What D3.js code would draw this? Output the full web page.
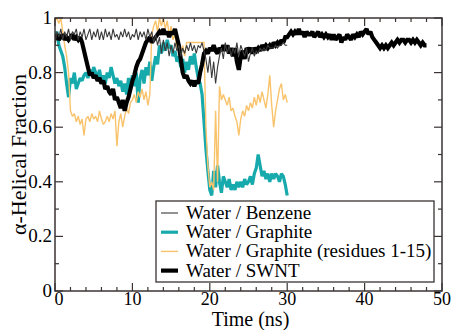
<!DOCTYPE html>
<html>
<head>
<meta charset="utf-8">
<script src="https://cdn.jsdelivr.net/npm/d3@7/dist/d3.min.js"></script>
<style>
  html, body { margin: 0; padding: 0; background: #fff; }
  svg { display: block; }
</style>
</head>
<body>
<script>
// time step between samples (ns)
const dt = 0.25;

// alpha-helical fraction, 4 samples per ns
const benzene = [
  0.90, 0.95, 0.93, 0.96,  0.92, 0.95, 0.93, 0.96,  0.92, 0.95, 0.94, 0.96,
  0.92, 0.95, 0.93, 0.96,  0.92, 0.94, 0.96, 0.92,  0.95, 0.93, 0.96, 0.92,
  0.95, 0.92, 0.96, 0.93,  0.95, 0.92, 0.96, 0.93,  0.94, 0.92, 0.95, 0.93,
  0.96, 0.93, 0.95, 0.92,  0.94, 0.93, 0.96, 0.92,  0.95, 0.93, 0.95, 0.92,
  0.96, 0.93, 0.95, 0.91,  0.94, 0.90, 0.93, 0.87,  0.92, 0.88, 0.91, 0.86,
  0.90, 0.87, 0.91, 0.88,  0.90, 0.86, 0.89, 0.87,  0.90, 0.88, 0.91, 0.88,
  0.90, 0.87, 0.90, 0.89,  0.91, 0.88, 0.85, 0.80,  0.86, 0.78, 0.84, 0.76,
  0.82, 0.86, 0.89, 0.85,  0.91, 0.87, 0.90, 0.86,  0.89, 0.87, 0.91, 0.86,
  0.90, 0.88, 0.86, 0.89,  0.84, 0.87, 0.89, 0.86,  0.88, 0.87, 0.89, 0.88,
  0.89, 0.88, 0.90, 0.89,  0.89, 0.89, 0.90, 0.89,  0.90, 0.90, 0.91, 0.90,
  0.90
];

const graphite = [
  0.93, 0.95, 0.90, 0.88,  0.86, 0.82, 0.76, 0.71,  0.78, 0.76, 0.80, 0.74,
  0.76, 0.78, 0.77, 0.79,  0.80, 0.78, 0.81, 0.79,  0.82, 0.80, 0.78, 0.81,
  0.77, 0.79, 0.76, 0.80,  0.78, 0.82, 0.79, 0.76,  0.78, 0.75, 0.77, 0.73,
  0.76, 0.72, 0.78, 0.74,  0.79, 0.75, 0.80, 0.69,  0.78, 0.81, 0.76, 0.82,
  0.79, 0.84, 0.77, 0.82,  0.86, 0.83, 0.90, 0.87,  0.91, 0.88, 0.92, 0.89,
  0.90, 0.86, 0.88, 0.84,  0.86, 0.82, 0.85, 0.80,  0.84, 0.81, 0.86, 0.83,
  0.87, 0.82, 0.78, 0.76,  0.72, 0.62, 0.52, 0.44,  0.37, 0.35, 0.44, 0.38,
  0.46, 0.40, 0.36, 0.42,  0.40, 0.38, 0.41, 0.37,  0.39, 0.37, 0.40, 0.38,
  0.40, 0.38, 0.41, 0.39,  0.40, 0.42, 0.39, 0.43,  0.45, 0.50, 0.46, 0.42,
  0.44, 0.41, 0.43, 0.40,  0.43, 0.41, 0.43, 0.42,  0.40, 0.43, 0.42, 0.39,
  0.35
];

const graphiteRes = [
  0.99, 1.00, 0.98, 1.00,  0.95, 0.90, 0.86, 0.80,  0.66, 0.64, 0.65, 0.62,
  0.64, 0.61, 0.63, 0.57,  0.63, 0.64, 0.62, 0.65,  0.63, 0.64, 0.62, 0.66,
  0.63, 0.61, 0.62, 0.64,  0.62, 0.65, 0.63, 0.66,  0.53, 0.62, 0.65, 0.60,
  0.64, 0.67, 0.65, 0.69,  0.70, 0.72, 0.69, 0.73,  0.71, 0.74, 0.70, 0.73,
  0.68, 0.72, 0.94, 0.97,  0.99, 0.95, 1.00, 0.97,  1.00, 0.96, 0.99, 0.94,
  0.97, 0.92, 0.94, 0.89,  0.91, 0.87, 0.90, 0.86,  0.91, 0.91, 0.91, 0.91,
  0.91, 0.91, 0.91, 0.91,  0.91, 0.91, 0.60, 0.46,  0.38, 0.40, 0.37, 0.66,
  0.40, 0.75, 0.70, 0.72,  0.70, 0.68, 0.71, 0.66,  0.67, 0.64, 0.62, 0.57,
  0.63, 0.66, 0.64, 0.68,  0.66, 0.69, 0.67, 0.71,  0.68, 0.72, 0.69, 0.73,
  0.70, 0.67, 0.72, 0.79,  0.68, 0.60, 0.66, 0.70,  0.74, 0.76, 0.70, 0.72,
  0.69
];

const swnt = [
  0.92, 0.94, 0.92, 0.93,  0.94, 0.92, 0.93, 0.92,  0.93, 0.94, 0.92, 0.93,
  0.92, 0.93, 0.91, 0.88,  0.85, 0.82, 0.79, 0.80,  0.78, 0.79, 0.77, 0.78,
  0.76, 0.77, 0.74, 0.75,  0.73, 0.72, 0.74, 0.70,  0.71, 0.69, 0.67, 0.70,
  0.66, 0.69, 0.71, 0.74,  0.77, 0.79, 0.82, 0.84,  0.85, 0.87, 0.89, 0.91,
  0.92, 0.93, 0.91, 0.92,  0.93, 0.94, 0.95, 0.94,  0.96, 0.94, 0.95, 0.93,
  0.95, 0.94, 0.96, 0.93,  0.90, 0.85, 0.80, 0.78,  0.79, 0.77, 0.76, 0.77,
  0.75, 0.77, 0.76, 0.80,  0.83, 0.87, 0.88, 0.87,  0.89, 0.88, 0.90, 0.88,
  0.87, 0.89, 0.88, 0.90,  0.88, 0.90, 0.87, 0.89,  0.86, 0.89, 0.84, 0.81,
  0.86, 0.88, 0.85, 0.89,  0.88, 0.89, 0.87, 0.89,  0.88, 0.89, 0.88, 0.90,
  0.89, 0.90, 0.89, 0.90,  0.89, 0.91, 0.90, 0.91,  0.90, 0.92, 0.91, 0.93,
  0.93, 0.94, 0.95, 0.94,  0.95, 0.94, 0.96, 0.94,  0.95, 0.93, 0.95, 0.94,
  0.94, 0.95, 0.93, 0.94,  0.95, 0.93, 0.94, 0.93,  0.94, 0.93, 0.94, 0.92,
  0.94, 0.92, 0.93, 0.94,  0.91, 0.93, 0.92, 0.94,  0.93, 0.92, 0.94, 0.93,
  0.94, 0.93, 0.95, 0.94,  0.95, 0.96, 0.94, 0.95,  0.93, 0.92, 0.91, 0.90,
  0.89, 0.90, 0.89, 0.90,  0.89, 0.90, 0.91, 0.90,  0.91, 0.92, 0.91, 0.92,
  0.92, 0.91, 0.92, 0.92,  0.91, 0.92, 0.91, 0.92,  0.91, 0.90, 0.91, 0.90,
  0.90
];

const seriesNames = [
  "Water / Benzene",
  "Water / Graphite",
  "Water / Graphite (residues 1-15)",
  "Water / SWNT"
];
const xTicks = [0, 10, 20, 30, 40, 50];
const yTicks = [0, 0.2, 0.4, 0.6, 0.8, 1];

const width = 453, height = 330;
const margin = {left: 55, right: 11, top: 18, bottom: 39};
const x0 = margin.left, x1 = width - margin.right,
      y0 = height - margin.bottom, y1 = margin.top;

const x = d3.scaleLinear().domain([0, 50]).range([x0, x1]);
const y = d3.scaleLinear().domain([0, 1]).range([y0, y1]);

const svg = d3.select("body").append("svg")
  .attr("width", width)
  .attr("height", height)
  .attr("font-family", "'Liberation Serif', 'Times New Roman', Times, serif");

// series styles, drawn in this order
const styles = [
  {data: graphite,    color: "#17aaad", w: 3.2, leg: 1},
  {data: graphiteRes, color: "#f9c36c", w: 1.4, leg: 2},
  {data: swnt,        color: "#000",    w: 4.2, leg: 3},
  {data: benzene,     color: "#3a3a3a", w: 1.1, leg: 0}
];

const line = d3.line()
  .x((d, i) => x(i * dt))
  .y(d => y(d));

const plot = svg.append("g");
plot.append("clipPath").attr("id", "clip")
  .append("rect")
  .attr("x", x0).attr("y", y1)
  .attr("width", x1 - x0).attr("height", y0 - y1);

plot.selectAll("path.series")
  .data(styles)
  .join("path")
  .classed("series", true)
  .attr("clip-path", "url(#clip)")
  .attr("d", s => line(s.data))
  .attr("fill", "none")
  .attr("stroke", s => s.color)
  .attr("stroke-width", s => s.w)
  .attr("stroke-linejoin", "miter")
  .attr("stroke-miterlimit", 2);

// axes: ticks point inward on all four sides
const axisColor = "#3b3333";
const xMinor = d3.range(0, 51, 2).filter(v => v % 10 !== 0);
const yMinor = d3.range(1, 10, 2).map(v => v / 10);

const axes = svg.append("g").attr("stroke", axisColor).attr("stroke-width", 1.2);

function xTickMarks(vals, len) {
  axes.selectAll(null).data(vals).join("line")
    .attr("x1", d => x(d)).attr("x2", d => x(d))
    .attr("y1", y0).attr("y2", y0 - len);
  axes.selectAll(null).data(vals).join("line")
    .attr("x1", d => x(d)).attr("x2", d => x(d))
    .attr("y1", y1).attr("y2", y1 + len);
}
function yTickMarks(vals, len) {
  axes.selectAll(null).data(vals).join("line")
    .attr("y1", d => y(d)).attr("y2", d => y(d))
    .attr("x1", x0).attr("x2", x0 + len);
  axes.selectAll(null).data(vals).join("line")
    .attr("y1", d => y(d)).attr("y2", d => y(d))
    .attr("x1", x1).attr("x2", x1 - len);
}
xTickMarks(xTicks, 8);
xTickMarks(xMinor, 4);
yTickMarks(yTicks, 8);
yTickMarks(yMinor, 4);

axes.append("rect")
  .attr("x", x0).attr("y", y1)
  .attr("width", x1 - x0).attr("height", y0 - y1)
  .attr("fill", "none")
  .attr("stroke-width", 1.5);

// tick labels
svg.append("g")
  .attr("font-size", 18)
  .attr("text-anchor", "middle")
  .selectAll("text").data(xTicks).join("text")
  .attr("x", d => x(d) + (d === 0 ? 4 : 0))
  .attr("y", y0 + 14)
  .text(d => d);

svg.append("g")
  .attr("font-size", 19)
  .attr("text-anchor", "end")
  .selectAll("text").data(yTicks).join("text")
  .attr("x", x0 - 3)
  .attr("y", d => y(d) + 6)
  .text(d => d);

svg.append("text")
  .attr("x", (x0 + x1) / 2 + 2)
  .attr("y", 325.5)
  .attr("text-anchor", "middle")
  .attr("font-size", 20)
  .text("Time (ns)");

svg.append("text")
  .attr("transform", `translate(26,${(y0 + y1) / 2}) rotate(-90)`)
  .attr("text-anchor", "middle")
  .attr("font-size", 22)
  .text("α-Helical Fraction");

// legend
const legend = svg.append("g");
legend.append("rect")
  .attr("x", 156).attr("y", 201)
  .attr("width", 278).attr("height", 81)
  .attr("fill", "#fff")
  .attr("stroke", axisColor)
  .attr("stroke-width", 1.3);

const legendRows = styles.slice().sort((a, b) => a.leg - b.leg);
const row = legend.selectAll("g.row")
  .data(legendRows)
  .join("g")
  .classed("row", true)
  .attr("transform", (d, i) => `translate(0,${213 + i * 19.2})`);

row.append("line")
  .attr("x1", 161).attr("x2", 178)
  .attr("stroke", d => d.color)
  .attr("stroke-width", d => d.w);

row.append("text")
  .attr("x", 186).attr("y", 6)
  .attr("font-size", 19)
  .text(d => seriesNames[d.leg]);
</script>
</body>
</html>
